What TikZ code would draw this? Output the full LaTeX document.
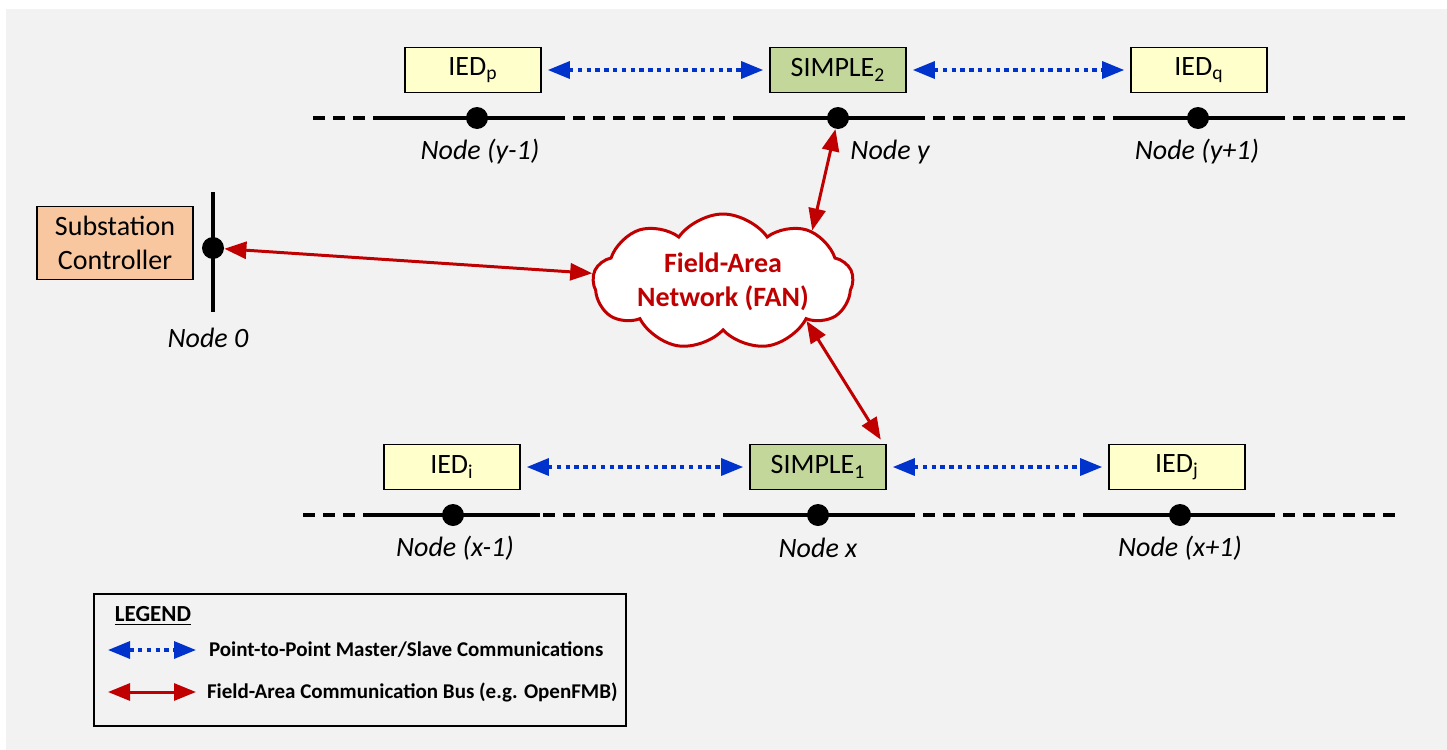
\documentclass[tikz,border=0pt]{standalone}
\usepackage{fontspec}
\setmainfont{Carlito}
\usepackage{tikz}
\usetikzlibrary{arrows.meta,positioning,calc,shapes.symbols}

\definecolor{bgGray}{RGB}{242,242,242}
\definecolor{fanRed}{RGB}{192,0,0}
\definecolor{p2pBlue}{RGB}{0,51,204}
\definecolor{iedYellow}{RGB}{255,255,204}
\definecolor{simpleGreen}{RGB}{196,215,155}
\definecolor{subOrange}{RGB}{248,199,160}

\begin{document}
\begin{tikzpicture}[x=0.5pt, y=-0.5pt,
    box/.style={draw=black, line width=0.8pt, minimum width=68pt, minimum height=22.5pt,
                inner sep=0pt, font=\fontsize{14}{16}\selectfont},
    ied/.style={box, fill=iedYellow},
    simple/.style={box, fill=simpleGreen},
    dot/.style={circle, fill=black, minimum size=11pt, inner sep=0pt},
    bus/.style={line width=1.6pt},
    busdash/.style={bus, dash pattern=on 6pt off 4pt},
    nodelabel/.style={font=\fontsize{14}{16}\selectfont\itshape},
    p2p/.style={p2pBlue, line width=1.6pt, dash pattern=on 2.2pt off 2.2pt,
                {Triangle[length=11pt,width=8.5pt]}-{Triangle[length=11pt,width=8.5pt]},
                shorten <=3pt, shorten >=3pt},
    fanbus/.style={fanRed, line width=1.5pt,
                {Triangle[length=11pt,width=8.5pt]}-{Triangle[length=11pt,width=8.5pt]}}]

    % page and background
    \useasboundingbox (0,0) rectangle (1447,750);
    \fill[bgGray] (6,9) rectangle (1447,750);

    % upper feeder (node y)
    \draw[busdash] (313,118) -- (1410,118);
    \draw[bus] (380,118) -- (560,118);
    \draw[bus] (745,118) -- (925,118);
    \draw[bus] (1125,118) -- (1285,118);
    \node[dot] (nym) at (477,118) {};
    \node[dot] (ny)  at (838,118) {};
    \node[dot] (nyp) at (1198,118) {};
    \node[nodelabel] (lnym) at (480,152) {Node (y-1)};
    \node[nodelabel] (lny)  at (890,152) {Node y};
    \node[nodelabel] (lnyp) at (1197,152) {Node (y+1)};
    \node[ied]    (iedp) at (473,70)  {IED\textsubscript{p}};
    \node[simple] (s2)   at (838,70)  {SIMPLE\textsubscript{2}};
    \node[ied]    (iedq) at (1199,70) {IED\textsubscript{q}};

    % lower feeder (node x)
    \draw[busdash] (303,515) -- (1395,515);
    \draw[bus] (370,515) -- (540,515);
    \draw[bus] (725,515) -- (910,515);
    \draw[bus] (1095,515) -- (1265,515);
    \node[dot] (nxm) at (453,515) {};
    \node[dot] (nx)  at (818,515) {};
    \node[dot] (nxp) at (1180,515) {};
    \node[nodelabel] (lnxm) at (455,548) {Node (x-1)};
    \node[nodelabel] (lnx)  at (818,548) {Node x};
    \node[nodelabel] (lnxp) at (1180,548) {Node (x+1)};
    \node[ied]    (iedi) at (452,467)  {IED\textsubscript{i}};
    \node[simple] (s1)   at (818,467)  {SIMPLE\textsubscript{1}};
    \node[ied]    (iedj) at (1177,467) {IED\textsubscript{j}};

    % substation
    \draw[bus] (213,192) -- (213,312);
    \node[dot] (n0) at (213,248) {};
    \node[nodelabel] (ln0) at (208,338) {Node 0};
    \node[draw=black, line width=0.8pt, fill=subOrange, minimum width=78pt, minimum height=36.5pt,
          inner sep=0pt, align=center, font=\fontsize{14}{17}\selectfont] (sub) at (115,243)
          {Substation\\Controller};

    % field-area network
    \node[cloud, cloud puffs=9, cloud puff arc=110, cloud ignores aspect, draw=fanRed,
          line width=1.5pt, fill=white, minimum width=130pt, minimum height=68pt, inner sep=0pt,
          align=center, text=fanRed, font=\fontsize{14}{17}\selectfont\bfseries] (fan) at (723,282)
          {Field-Area\\Network (FAN)};

    % master/slave links
    \draw[p2p] (iedp) -- (s2);
    \draw[p2p] (s2) -- (iedq);
    \draw[p2p] (iedi) -- (s1);
    \draw[p2p] (s1) -- (iedj);

    % field-area bus
    \draw[fanbus] (n0) -- (fan);
    \draw[fanbus] (ny) -- (fan.30);
    \draw[fanbus] (fan.-25) -- ([xshift=-3pt,yshift=2pt]s1.north east);

    % legend
    \node[draw=black, line width=0.8pt, minimum width=266pt, minimum height=66pt, inner sep=0pt]
          (legend) at (360,660) {};
    \node[font=\fontsize{11.5}{13}\selectfont\bfseries] (legtitle) at (153,616) {\underline{LEGEND}};
    \coordinate (lb1) at (108,650);
    \coordinate (lb2) at (196,650);
    \coordinate (lr1) at (108,692);
    \coordinate (lr2) at (196,692);
    \draw[p2p, shorten <=0pt, shorten >=0pt] (lb1) -- (lb2);
    \draw[fanbus] (lr1) -- (lr2);
    \node[right, font=\fontsize{10.5}{12}\selectfont\bfseries] (legp2p) at (202,650)
          {Point-to-Point Master/Slave Communications};
    \node[right, font=\fontsize{10.5}{12}\selectfont\bfseries] (legfan) at (200,692)
          {Field-Area Communication Bus (e.g. OpenFMB)};
\end{tikzpicture}
\end{document}
